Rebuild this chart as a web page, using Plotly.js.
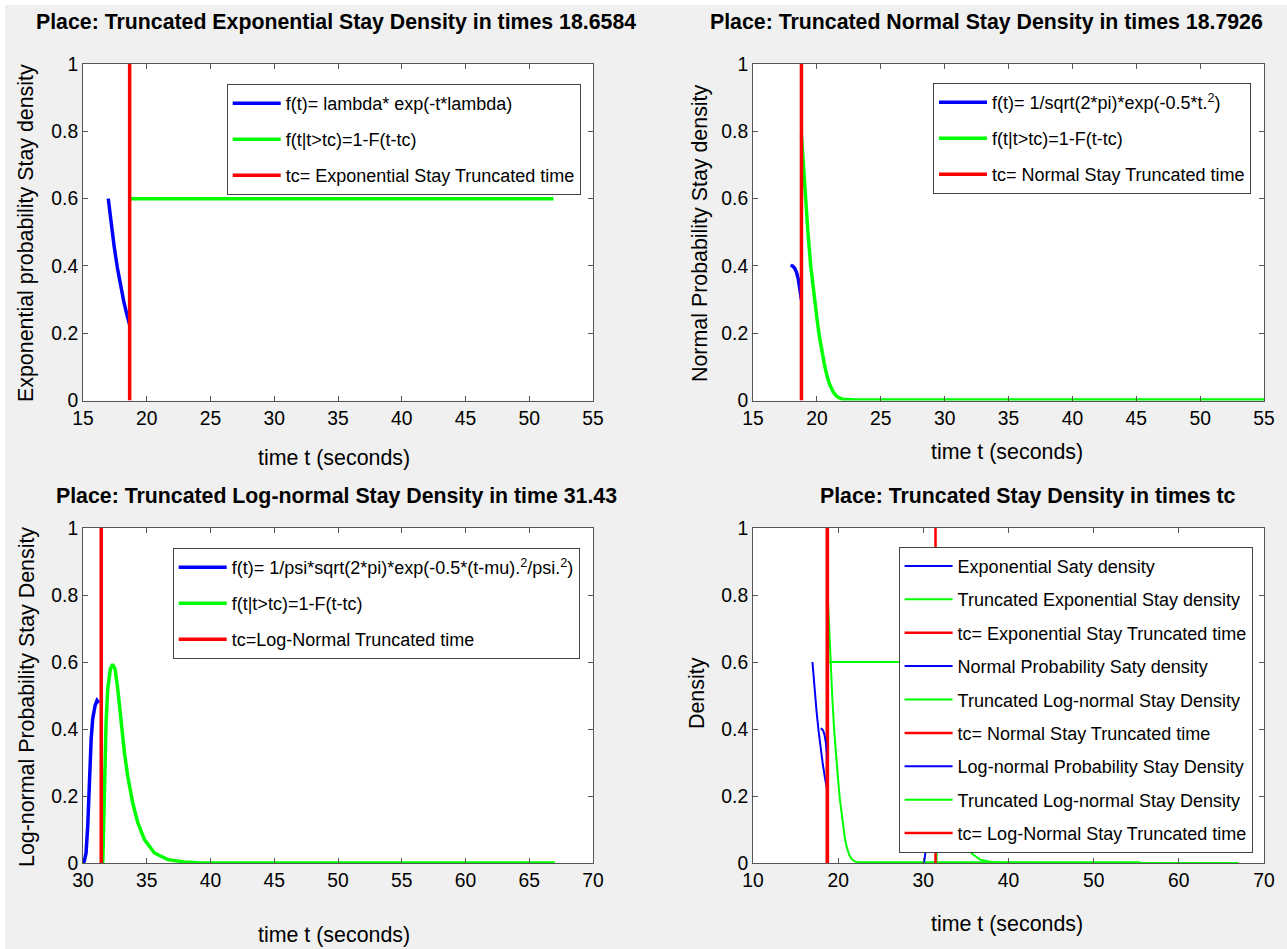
<!DOCTYPE html>
<html><head><meta charset="utf-8">
<script src="https://cdn.plot.ly/plotly-3.0.1.min.js"></script>
<style>html,body{margin:0;padding:0;background:#fff;}#chart{width:1287px;height:949px;}</style>
</head><body><div id="chart"></div>
<script>
// ---- truncation times (from titles) ----
const expTc = 18.6584;
const normTc = 18.7926;
const logTc = 31.43;

// ---- exponential stay density ----
const expT = [16.98, 17.2, 17.45, 17.7, 17.95, 18.2, 18.45, 18.66];
const expF = [0.600, 0.528, 0.456, 0.394, 0.341, 0.294, 0.254, 0.225];
const expTruncT = [18.6584, 51.9];
const expTruncF = [0.6, 0.6];

// ---- normal stay density ----
const normT = [17.94, 18.1, 18.25, 18.4, 18.55, 18.68, 18.79];
const normF = [0.402, 0.400, 0.394, 0.382, 0.360, 0.330, 0.300];
const normTruncT = [18.79, 18.9, 19.08, 19.3, 19.52, 19.8, 20.0, 20.2, 20.4, 20.6, 20.8, 21.0, 21.3, 21.6, 22.0, 22.5, 23.0, 30, 40, 55.5];
const normTruncF = [0.79, 0.72, 0.60, 0.50, 0.40, 0.30, 0.245, 0.19, 0.145, 0.105, 0.072, 0.048, 0.024, 0.011, 0.004, 0.002, 0.002, 0.002, 0.002, 0.002];

// ---- log-normal stay density ----
const logT = [29.9, 30.0, 30.1, 30.24, 30.37, 30.5, 30.64, 30.76, 30.95, 31.1, 31.25];
const logF = [0.0, 0.0, 0.005, 0.03, 0.11, 0.25, 0.37, 0.43, 0.47, 0.485, 0.478];
const logTruncT = [31.55, 31.68, 31.81, 31.94, 32.15, 32.33, 32.52, 32.73, 32.99, 33.25, 33.51, 33.9, 34.3, 34.82, 35.6, 36.65, 37.97, 39, 45, 55, 67];
const logTruncF = [0.0, 0.27, 0.42, 0.52, 0.58, 0.593, 0.578, 0.518, 0.418, 0.329, 0.259, 0.179, 0.12, 0.07, 0.03, 0.01, 0.003, 0.001, 0.0, 0.0, 0.0];

// ---- text ----
const titles = [
  'Place: Truncated Exponential Stay Density in times 18.6584',
  'Place: Truncated Normal Stay Density in times 18.7926',
  'Place: Truncated Log-normal Stay Density in time 31.43',
  'Place: Truncated Stay Density in times tc'
];
const xTitles = ['time t (seconds)', 'time t (seconds)', 'time t (seconds)', 'time t (seconds)'];
const yTitles = ['Exponential probability Stay density', 'Normal Probability Stay density',
                 'Log-normal Probability Stay Density', 'Density'];
const names1 = ['f(t)= lambda* exp(-t*lambda)', 'f(t|t>tc)=1-F(t-tc)', 'tc= Exponential Stay Truncated time'];
const names2 = ['f(t)= 1/sqrt(2*pi)*exp(-0.5*t.<sup>2</sup>)', 'f(t|t>tc)=1-F(t-tc)', 'tc= Normal Stay Truncated time'];
const names3 = ['f(t)= 1/psi*sqrt(2*pi)*exp(-0.5*(t-mu).<sup>2</sup>/psi.<sup>2</sup>)', 'f(t|t>tc)=1-F(t-tc)', 'tc=Log-Normal Truncated time'];
const names4 = ['Exponential Saty density', 'Truncated Exponential Stay density', 'tc= Exponential Stay Truncated time',
                'Normal Probability Saty density', 'Truncated Log-normal Stay Density', 'tc= Normal Stay Truncated time',
                'Log-normal Probability Stay Density', 'Truncated Log-normal Stay Density', 'tc= Log-Normal Stay Truncated time'];

const BLUE = '#0000FF', GREEN = '#00FF00', RED = '#FF0000';
const FONT = 'Liberation Sans, Arial, Helvetica, sans-serif';

function tr(x, y, color, width, name, ax, leg, grp) {
  return {x: x, y: y, type: 'scatter', mode: 'lines', name: name,
          line: {color: color, width: width}, xaxis: 'x' + ax, yaxis: 'y' + ax,
          legend: leg, legendgroup: grp, hoverinfo: 'skip'};
}
const tcY = [0, 1];
const data = [
  tr(expT, expF, BLUE, 3.5, names1[0], '', 'legend', 'a1'),
  tr(expTruncT, expTruncF, GREEN, 3.5, names1[1], '', 'legend', 'a2'),
  tr([expTc, expTc], tcY, RED, 3.5, names1[2], '', 'legend', 'a3'),

  tr(normT, normF, BLUE, 3.5, names2[0], '2', 'legend2', 'b1'),
  tr(normTruncT, normTruncF, GREEN, 3.5, names2[1], '2', 'legend2', 'b2'),
  tr([normTc, normTc], tcY, RED, 3.5, names2[2], '2', 'legend2', 'b3'),

  tr(logT, logF, BLUE, 3.5, names3[0], '3', 'legend3', 'c1'),
  tr(logTruncT, logTruncF, GREEN, 3.5, names3[1], '3', 'legend3', 'c2'),
  tr([logTc, logTc], tcY, RED, 3.5, names3[2], '3', 'legend3', 'c3'),

  tr(expT, expF, BLUE, 2, names4[0], '4', 'legend4', 'd1'),
  tr(expTruncT, expTruncF, GREEN, 2, names4[1], '4', 'legend4', 'd2'),
  tr([expTc, expTc], tcY, RED, 2.5, names4[2], '4', 'legend4', 'd3'),
  tr(normT, normF, BLUE, 2, names4[3], '4', 'legend4', 'd4'),
  tr(normTruncT, normTruncF, GREEN, 2, names4[4], '4', 'legend4', 'd5'),
  tr([normTc, normTc], tcY, RED, 2.5, names4[5], '4', 'legend4', 'd6'),
  tr(logT, logF, BLUE, 2, names4[6], '4', 'legend4', 'd7'),
  tr(logTruncT, logTruncF, GREEN, 2, names4[7], '4', 'legend4', 'd8'),
  tr([logTc, logTc], tcY, RED, 2.5, names4[8], '4', 'legend4', 'd9')
];

const W = 1287, H = 949;
const px = v => v / W, py = v => 1 - v / H;
function xa(domain, range, dtick, anchor) {
  return {domain: domain, range: range, dtick: dtick, tick0: 0, anchor: anchor,
          showline: true, mirror: 'ticks', linecolor: '#555', linewidth: 1,
          ticks: 'inside', ticklen: 5, tickcolor: '#555', tickwidth: 1,
          showgrid: false, zeroline: false, fixedrange: true,
          tickfont: {family: FONT, size: 19.3, color: '#000'}};
}
function ya(domain, anchor) {
  return {domain: domain, range: [0, 1], dtick: 0.2, tick0: 0, anchor: anchor,
          showline: true, mirror: 'ticks', linecolor: '#555', linewidth: 1,
          ticks: 'inside', ticklen: 5, tickcolor: '#555', tickwidth: 1,
          showgrid: false, zeroline: false, fixedrange: true,
          tickfont: {family: FONT, size: 19.3, color: '#000'}};
}
const colL = [px(83), px(593)], colR = [px(753), px(1264)];
const rowT = [py(400.6), py(64)], rowB = [py(863), py(528)];

function leg(x, y, gap) {
  return {x: px(x), y: py(y), xanchor: 'left', yanchor: 'top', bgcolor: '#FFFFFF',
          bordercolor: '#444', borderwidth: 1, tracegroupgap: gap, itemwidth: 48,
          font: {family: FONT, size: 18, color: '#000'}};
}
function ann(text, x, y, size, bold, angle) {
  return {text: bold ? '<b>' + text + '</b>' : text, x: px(x), y: py(y), xref: 'paper', yref: 'paper',
          xanchor: 'center', yanchor: 'middle', showarrow: false, textangle: angle || 0,
          font: {family: FONT, size: size, color: '#000'}};
}

const layout = {
  width: W, height: H, margin: {l: 0, r: 0, t: 0, b: 0},
  paper_bgcolor: '#F0F0F0', plot_bgcolor: '#FFFFFF', showlegend: true,
  xaxis: xa(colL, [15, 55], 5, 'y'), yaxis: ya(rowT, 'x'),
  xaxis2: xa(colR, [15, 55], 5, 'y2'), yaxis2: ya(rowT, 'x2'),
  xaxis3: xa(colL, [30, 70], 5, 'y3'), yaxis3: ya(rowB, 'x3'),
  xaxis4: xa(colR, [10, 70], 10, 'y4'), yaxis4: ya(rowB, 'x4'),
  legend: leg(226.7, 84, 9.6),
  legend2: leg(933, 83, 9.6),
  legend3: leg(172.7, 548, 9.6),
  legend4: leg(898.6, 546.7, 7),
  shapes: [
    {type: 'rect', xref: 'paper', yref: 'paper', x0: 0, x1: 1, y0: py(5), y1: 1, fillcolor: '#FFFFFF', line: {width: 0}, layer: 'below'},
    {type: 'rect', xref: 'paper', yref: 'paper', x0: 0, x1: px(5), y0: 0, y1: 1, fillcolor: '#FFFFFF', line: {width: 0}, layer: 'below'}
  ],
  annotations: [
    ann(titles[0], 336, 22, 21.3, true), ann(titles[1], 986, 22, 21.3, true),
    ann(titles[2], 336, 496, 21.3, true), ann(titles[3], 1028, 496, 21.3, true),
    ann(xTitles[0], 334, 458, 21.4), ann(xTitles[1], 1007, 452, 21.4),
    ann(xTitles[2], 334, 935, 21.4), ann(xTitles[3], 1007, 924, 21.4),
    ann(yTitles[0], 26, 233, 21.4, false, -90), ann(yTitles[1], 700, 233, 21.4, false, -90),
    ann(yTitles[2], 27, 697, 21.4, false, -90), ann(yTitles[3], 697, 693, 21.4, false, -90)
  ]
};
Plotly.newPlot('chart', data, layout, {displayModeBar: false, staticPlot: true});
</script></body></html>
